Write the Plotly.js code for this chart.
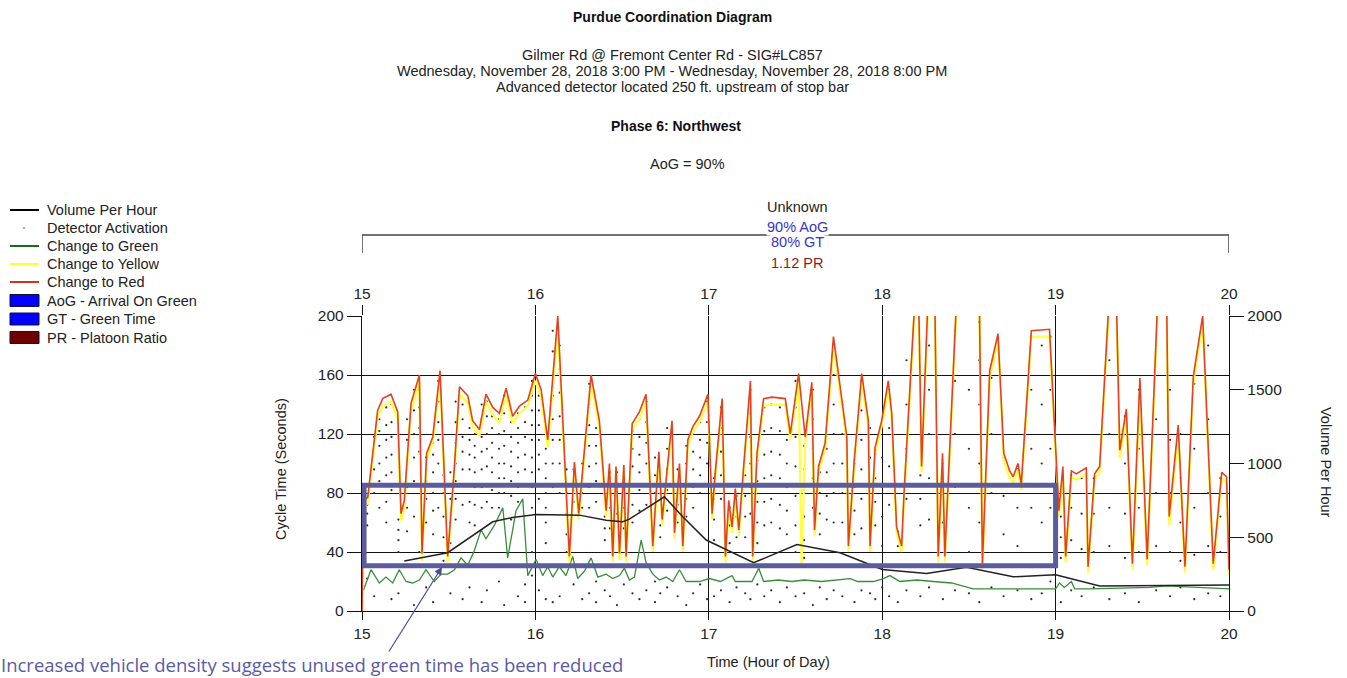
<!DOCTYPE html>
<html>
<head>
<meta charset="utf-8">
<script src="https://cdn.plot.ly/plotly-3.0.1.min.js"></script>
<style>html,body{margin:0;padding:0;background:#fff;}#chart{width:1347px;height:678px;}</style>
</head>
<body>
<div id="chart"></div>
<script>
// ---------------- DATA ----------------
const hourTicks = [15, 16, 17, 18, 19, 20];
const cycleTicks = [0, 40, 80, 120, 160, 200];
const volumeTicks = [0, 500, 1000, 1500, 2000];

// Change to Red / Change to Yellow (cycle time, seconds)
const redT = [15.000,15.008,15.033,15.090,15.119,15.167,15.206,15.225,15.244,15.283,15.331,15.346,15.373,15.408,15.450,15.494,15.533,15.562,15.610,15.638,15.677,15.715,15.754,15.792,15.831,15.869,15.908,15.956,16.000,16.033,16.071,16.129,16.196,16.225,16.250,16.321,16.369,16.408,16.427,16.446,16.465,16.485,16.510,16.523,16.558,16.600,16.638,16.677,16.712,16.731,16.788,16.802,16.831,16.850,16.879,16.908,16.946,16.995,17.019,17.038,17.077,17.096,17.115,17.134,17.153,17.173,17.201,17.240,17.253,17.278,17.316,17.364,17.441,17.470,17.518,17.535,17.556,17.594,17.610,17.633,17.671,17.719,17.796,17.805,17.840,17.882,17.920,17.930,17.959,17.997,18.035,18.055,18.083,18.112,18.126,18.190,18.210,18.227,18.265,18.303,18.323,18.348,18.361,18.430,18.560,18.578,18.620,18.668,18.701,18.735,18.755,18.783,18.802,18.860,18.965,19.019,19.042,19.058,19.091,19.119,19.148,19.177,19.187,19.225,19.254,19.310,19.350,19.370,19.408,19.443,19.486,19.528,19.590,19.640,19.655,19.707,19.746,19.794,19.848,19.909,19.958,19.986,20.000];
const redV = [0,75,77,136,144,147,135,66,75,141,160,39,107,118,163,37,98,152,146,129,123,147,138,134,151,132,139,143,161,150,116,200,37,101,66,160,129,68,100,37,98,39,99,37,127,135,147,44,108,62,129,53,100,44,116,125,132,147,66,95,144,37,75,57,83,55,98,156,37,107,144,145,144,120,161,142,118,155,55,98,114,186,118,44,104,161,129,44,111,129,156,134,57,44,80,215,215,98,215,215,37,107,37,215,215,32,163,188,107,95,91,100,86,190,191,68,98,37,95,93,95,97,30,93,98,215,215,109,137,32,158,35,215,215,64,126,30,159,200,32,94,91,28];
const yellowV = [0,70,73,131,139,142,130,61,71,136,155,34,103,114,158,33,94,147,141,125,119,142,133,128,146,127,134,139,156,145,111,192,33,97,62,155,124,64,96,33,94,35,95,33,123,130,142,40,104,58,125,49,96,40,112,121,128,142,62,91,140,33,71,53,79,51,94,151,33,103,139,140,140,116,156,32,114,150,51,94,110,180,114,40,100,156,125,40,107,125,150,130,53,40,76,210,210,94,210,210,33,103,33,210,210,28,158,183,102,90,87,96,82,186,186,64,94,33,91,89,91,93,26,89,94,210,210,104,133,28,146,31,210,210,58,121,26,154,196,28,90,87,24];

// Change to Green (seconds)
const greenT = [15.008,15.052,15.100,15.138,15.177,15.215,15.254,15.292,15.331,15.369,15.417,15.456,15.494,15.533,15.571,15.610,15.648,15.687,15.715,15.763,15.812,15.840,15.869,15.888,15.927,15.956,16.004,16.042,16.071,16.100,16.138,16.177,16.215,16.244,16.283,16.321,16.360,16.408,16.446,16.485,16.513,16.542,16.571,16.610,16.638,16.677,16.715,16.754,16.792,16.831,16.869,16.946,17.004,17.067,17.134,17.153,17.249,17.288,17.316,17.400,17.480,17.550,17.650,17.720,17.815,17.860,17.950,18.007,18.045,18.102,18.200,18.294,18.400,18.524,18.678,18.869,19.000,19.023,19.050,19.091,19.110,19.197,19.543,19.640,20.000];
const greenV = [14,28,19,23,19,28,20,19,21,28,20,25,25,28,36,31,41,55,49,58,70,36,55,68,76,24,35,24,30,23,30,24,37,22,27,36,23,25,22,24,29,21,23,48,33,25,21,23,20,28,20,20,22,20,24,20,20,29,20,21,20,21,20,21,22,20,20,22,24,20,21,20,19,15,15,15,15,19,16,20,15,15,16,17,15];

// Volume Per Hour
const volT = [15.244,15.494,15.754,15.869,16.004,16.196,16.254,16.408,16.504,16.542,16.744,16.850,16.985,17.259,17.508,17.757,18.000,18.256,18.486,18.755,19.000,19.254,19.640,20.000];
const volV = [339,395,605,634,655,655,650,616,605,623,774,639,481,327,451,395,282,255,296,232,246,169,172,176];

// Detector Activation: cycle times and arrival times (seconds into cycle)
const detT = [15.03,15.07,15.10,15.14,15.17,15.21,15.26,15.30,15.33,15.37,15.41,15.44,15.47,15.51,15.54,15.58,15.62,15.65,15.69,15.72,15.75,15.79,15.82,15.86,15.90,15.94,15.98,16.02,16.06,16.10,16.14,16.18,16.22,16.27,16.31,16.35,16.40,16.43,16.47,16.51,16.56,16.60,16.64,16.69,16.72,16.76,16.82,16.87,16.91,16.95,16.99,17.03,17.07,17.12,17.16,17.21,17.24,17.28,17.32,17.36,17.41,17.45,17.50,17.55,17.60,17.64,17.68,17.72,17.77,17.84,17.88,17.93,17.96,18.00,18.04,18.09,18.14,18.22,18.27,18.35,18.42,18.50,18.56,18.63,18.70,18.78,18.86,18.92,18.97,19.03,19.09,19.15,19.22,19.31,19.40,19.48,19.58,19.66,19.72,19.80,19.88,19.95];
const detArrivals = [
 [72,66,58,22],[118,110,96,80,10],[130,122,112,100,88,70],[138,126,116,104,92,74,60],[140,128,118,106,94,82,8],
 [62,55,48,40,30,12],[130,116,100,84,70,54],[150,136,120,104,88,64,4],[150,138,124,108,40],[104,96,88,76,60,16],
 [114,106,94,80,68,52,6],[156,142,128,116,100,86,70,26],[92,80,64,50,34],[94,86,76,60,46,12],[142,128,114,100,88,76,62],
 [140,130,118,108,96,86,72,8],[124,116,106,96,86,74,60,16],[120,112,104,94,84,72,58],[140,130,118,108,96,84,70,6],[142,132,120,110,98,86,74,14],
 [132,124,114,104,94,82,70],[130,120,110,100,90,80,70,20],[146,134,122,112,100,90,80,4],[128,118,108,98,88,78,62],[134,124,114,104,94,84,74,10],
 [138,128,118,106,96,86,30,18,6],[156,146,136,126,116,104,94,84,70,40,24],[146,136,126,116,106,96,86,76,14],[110,100,90,80,70,60,46,8],[190,176,160,146,130,116,100,84,6],
 [180,164,148,132,116,100,80,10],[96,80,66,52,40],[96,86,74,18],[100,90,80,70,8],[154,140,126,112,98,84,70,12],
 [124,112,100,88,74,20,6],[64,56,48,14],[94,82,70,56,10],[94,80,66,4],[94,82,70,56,18],
 [122,110,98,86,72,60,12],[130,118,106,94,82,68,8],[142,128,114,100,86,72,14],[104,92,80,66,20,6],[58,50,12],
 [124,110,96,82,68,16],[96,84,72,60,10],[112,100,88,76,64,4],[120,108,96,84,70,12],[128,116,104,92,80,18],
 [142,128,114,100,86,8],[90,76,62,48,10],[138,124,108,92,76,14],[70,58,46,6],[78,64,50,16],
 [92,78,64,50,12],[150,134,118,100,84,66,8],[102,88,74,60,46,18],[138,122,106,90,74,58,10],[140,124,108,92,76,60,14],
 [138,122,106,90,72,56,6],[116,100,84,68,52,16],[156,138,118,98,78,58,40,10],[112,96,80,64,48,36,12],[150,130,110,90,70,4],
 [94,80,66,52,16],[110,94,78,62,8],[180,160,140,120,100,80,60,14],[140,120,100,80,60,10],[100,84,68,52,6],
 [156,136,116,96,76,56,14],[124,104,84,64,12],[106,90,74,58,8],[124,104,84,64,44,16],[150,124,98,72,10],
 [54,44,6],[170,140,110,76,14],[92,76,58,10],[180,150,120,90,62,16],[100,80,60,8],
 [190,156,120,84,14],[150,110,70,40,12],[196,170,140,100,60,6],[158,120,80,16],[104,78,52,10],
 [96,70,44,14],[186,150,110,70,8],[180,140,100,60,12],[186,150,110,70,20],[64,50,36,6],
 [92,70,48,14],[90,66,42,10],[90,66,40,16],[170,120,70,44,8],[132,100,66,36,12],
 [150,110,70,40,6],[180,130,80,44,14],[150,116,80,40,10],[120,90,60,34,16],[154,110,70,38,8],
 [180,130,80,44,12],[90,64,40,10]
];

// Labels
const legendNames = ["Volume Per Hour","Detector Activation","Change to Green","Change to Yellow","Change to Red","AoG - Arrival On Green","GT - Green Time","PR - Platoon Ratio"];
const titleLines = ["Gilmer Rd @ Fremont Center Rd - SIG#LC857","Wednesday, November 28, 2018 3:00 PM - Wednesday, November 28, 2018 8:00 PM","Advanced detector located 250 ft. upstream of stop bar"];
const planLabels = ["Unknown","90% AoG","80% GT","1.12 PR"];
const boxHours = [15, 19];      // highlighted region (hours)
const boxSeconds = [30.7, 85.3]; // highlighted region (seconds)

// ---------------- BUILD ----------------
const detX = [], detY = [];
detT.forEach((t, i) => detArrivals[i].forEach(a => { detX.push(t); detY.push(a); }));

const L = 362, R = 1229, T = 316, B = 611;
const px = p => (p - L) / (R - L);
const py = p => (B - p) / (B - T);
const FONT = 'Liberation Sans, Arial, sans-serif';

const traces = [
  {type:'scatter', mode:'markers', x:detX, y:detY, marker:{size:2.2, color:'#2b2b2b'}, hoverinfo:'skip', name:legendNames[1]},
  {type:'scatter', mode:'lines', x:greenT, y:greenV, line:{color:'#3a8c3a', width:1.3}, name:legendNames[2]},
  {type:'scatter', mode:'lines', x:redT, y:yellowV, line:{color:'#ffff40', width:2.2}, name:legendNames[3]},
  {type:'scatter', mode:'lines', x:redT, y:redV, line:{color:'#e5401f', width:1.6}, name:legendNames[4]},
  {type:'scatter', mode:'lines', x:volT, y:volV, yaxis:'y2', line:{color:'#222222', width:1.5}, name:legendNames[0]},
  {type:'scatter', mode:'lines', x:[15,20], y:[null,null], xaxis:'x2', yaxis:'y', hoverinfo:'skip', showlegend:false}
];

const shapes = [];
const annotations = [];
function label(xp, yp, text, size, color, extra) {
  annotations.push(Object.assign({xref:'paper', yref:'paper', x:px(xp), y:py(yp), text:text, showarrow:false,
    xanchor:'center', yanchor:'middle', font:{family:FONT, size:size, color:color}}, extra || {}));
}

// highlighted rectangle
shapes.push({type:'rect', xref:'x', yref:'y', x0:boxHours[0]+0.012, x1:boxHours[1], y0:boxSeconds[0], y1:boxSeconds[1],
  line:{color:'#5c5c9c', width:5}, layer:'above'});

// bracket over the plot
shapes.push({type:'line', xref:'x', yref:'paper', x0:15, x1:20, y0:py(235), y1:py(235), line:{color:'#444', width:1.5}});
shapes.push({type:'line', xref:'x', yref:'paper', x0:15, x1:15, y0:py(235), y1:py(253), line:{color:'#444', width:1.5}});
shapes.push({type:'line', xref:'x', yref:'paper', x0:20, x1:20, y0:py(235), y1:py(253), line:{color:'#444', width:1.5}});

const planY = [207, 227, 242, 263];
const planCol = ['#222', '#3535c8', '#3535c8', '#8b1a1a'];
planLabels.forEach((t, i) => label(797, planY[i], t, 14.5, planCol[i], {bgcolor: (i===1||i===2)?'#ffffff':'rgba(0,0,0,0)', borderpad:0}));

// titles
label(672, 17, '<b>Purdue Coordination Diagram</b>', 14, '#111');
const tl = [55, 71, 87];
titleLines.forEach((t, i) => label(672, tl[i], t, 14.5, '#222'));
label(676, 126, '<b>Phase 6: Northwest</b>', 14, '#111');
label(687, 164, 'AoG = 90%', 14.5, '#222');

// axis titles
label(281, 469, 'Cycle Time (Seconds)', 14.5, '#222', {textangle:-90});
label(1326, 462, 'Volume Per Hour', 14.5, '#222', {textangle:90});
label(768, 662, 'Time (Hour of Day)', 14.5, '#222');

// legend (drawn manually)
const legY = [210, 228, 246, 264, 282, 300.5, 319, 337.5];
const legLine = ['#000000', null, '#1c6b1c', '#ffff30', '#d8301f'];
const legBox = ['#0000ff', '#0000ff', '#6e0000'];
legendNames.forEach((n, i) => {
  label(45, legY[i], n, 14.5, '#222', {xanchor:'left'});
  if (i < 5 && legLine[i]) {
    shapes.push({type:'line', xref:'paper', yref:'paper', x0:px(10), x1:px(39), y0:py(legY[i]), y1:py(legY[i]), line:{color:legLine[i], width:2}});
  } else if (i === 1) {
    shapes.push({type:'rect', xref:'paper', yref:'paper', x0:px(23), x1:px(25), y0:py(legY[i]-1), y1:py(legY[i]+1), line:{width:0}, fillcolor:'#aaaaaa'});
  } else if (i >= 5) {
    shapes.push({type:'rect', xref:'paper', yref:'paper', x0:px(10), x1:px(39), y0:py(legY[i]-6), y1:py(legY[i]+6), line:{color:'#111133', width:1}, fillcolor:legBox[i-5]});
  }
});

// callout
annotations.push({xref:'paper', yref:'paper', x:px(442), y:py(567), ax:-54, ay:86, text:'', showarrow:true,
  arrowhead:2, arrowsize:1.3, arrowwidth:1.2, arrowcolor:'#4b4b99'});
annotations.push({xref:'paper', yref:'paper', x:px(0), y:py(664), xanchor:'left', yanchor:'middle', text:'Increased vehicle density suggests unused green time has been reduced',
  showarrow:false, borderpad:0, font:{family:'Open Sans, Noto Sans, sans-serif', size:18.5, color:'#5a5aa6'}});

const axisFont = {family:FONT, size:15.5, color:'#222'};
const layout = {
  width:1347, height:678,
  margin:{l:L, r:1347-R, t:T, b:678-B, pad:0},
  paper_bgcolor:'#fff', plot_bgcolor:'#fff',
  showlegend:false,
  xaxis:{range:[15,20], tickvals:hourTicks, ticktext:hourTicks.map(String), ticks:'outside', ticklen:8, tickcolor:'#111', tickwidth:1,
    showgrid:true, gridcolor:'#111', gridwidth:1, zeroline:false, showline:true, linecolor:'#111', linewidth:1, tickfont:axisFont, fixedrange:true},
  xaxis2:{range:[15,20], overlaying:'x', side:'top', anchor:'y', tickvals:hourTicks, ticktext:hourTicks.map(String), ticks:'outside', ticklen:10, tickcolor:'#111',
    showgrid:false, zeroline:false, showline:false, tickfont:axisFont},
  yaxis:{range:[0,200], tickvals:cycleTicks, ticktext:cycleTicks.map(String), ticks:'outside', ticklen:14, tickcolor:'#111',
    showgrid:true, gridcolor:'#111', gridwidth:1, zeroline:false, showline:true, linecolor:'#111', linewidth:1.2, tickfont:axisFont},
  yaxis2:{range:[0,2000], overlaying:'y', side:'right', anchor:'x', tickvals:volumeTicks, ticktext:volumeTicks.map(String), ticks:'outside', ticklen:14, tickcolor:'#111',
    showgrid:false, zeroline:false, showline:true, linecolor:'#111', linewidth:1.2, tickfont:axisFont},
  shapes:shapes, annotations:annotations
};

Plotly.newPlot('chart', traces, layout, {displayModeBar:false, staticPlot:true});
</script>
</body>
</html>
